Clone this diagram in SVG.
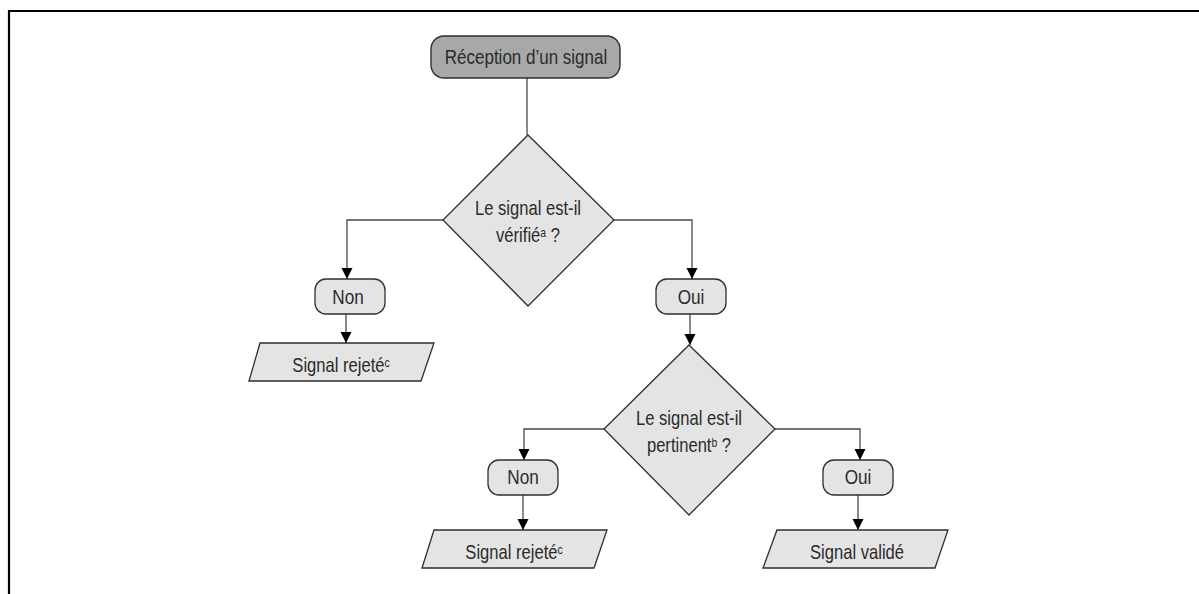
<svg xmlns="http://www.w3.org/2000/svg" width="1199" height="594" viewBox="0 0 1199 594">
  <style>
    text { font-family: "Liberation Sans Narrow", "Liberation Sans", Arial, sans-serif; font-size: 20px; fill: #2b2b2b; text-anchor: middle; }
    .sup { font-size: 12.5px; }
    .start { fill: #a8a8a8; stroke: #2e2e2e; stroke-width: 1.4; }
    .node { fill: #e4e4e4; stroke: #2e2e2e; stroke-width: 1.3; }
    .link { fill: none; stroke: #4a4a4a; stroke-width: 1.3; }
    .frame { fill: none; stroke: #000; stroke-width: 2.2; }
  </style>
  <defs>
    <marker id="arrow" markerWidth="11" markerHeight="12" refX="11" refY="5.5" orient="auto" markerUnits="userSpaceOnUse">
      <path d="M0,0 L11,5.5 L0,11 Z" fill="#000"/>
    </marker>
  </defs>

  <rect width="1199" height="594" fill="#fff"/>
  <path class="frame" d="M9,594 V11 H1199"/>

  <!-- connectors -->
  <g id="connectors">
    <path class="link" d="M527,78 V135"/>
    <path class="link" d="M443,220 H347 V279" marker-end="url(#arrow)"/>
    <path class="link" d="M614,220 H692 V279" marker-end="url(#arrow)"/>
    <path class="link" d="M346,314 V343" marker-end="url(#arrow)"/>
    <path class="link" d="M690,314 V345" marker-end="url(#arrow)"/>
    <path class="link" d="M604,429 H524 V460" marker-end="url(#arrow)"/>
    <path class="link" d="M775,429 H860 V460" marker-end="url(#arrow)"/>
    <path class="link" d="M523,495 V530" marker-end="url(#arrow)"/>
    <path class="link" d="M858,495 V530" marker-end="url(#arrow)"/>
  </g>

  <!-- labels are narrowed horizontally to a condensed look -->
  <g id="start">
    <rect class="start" x="431" y="36" width="189" height="42" rx="13"/>
    <text transform="translate(526,64) scale(0.85,1)">Réception d’un signal</text>
  </g>

  <g id="decision-verifie">
    <polygon class="node" points="528,135 614,220 528,306 443,220"/>
    <text transform="translate(528,215) scale(0.83,1)">Le signal est-il</text>
    <text transform="translate(528,242) scale(0.83,1)">vérifié<tspan class="sup" dy="-5">a</tspan><tspan dy="5"> ?</tspan></text>
  </g>

  <g id="non-1">
    <rect class="node" x="315" y="279" width="70" height="35" rx="11"/>
    <text transform="translate(348,304) scale(0.86,1)">Non</text>
  </g>

  <g id="oui-1">
    <rect class="node" x="656" y="279" width="70" height="35" rx="11"/>
    <text transform="translate(691,304) scale(0.86,1)">Oui</text>
  </g>

  <g id="rejet-1">
    <polygon class="node" points="260,343 434,343 421,381 249,381"/>
    <text transform="translate(341,372) scale(0.83,1)">Signal rejeté<tspan class="sup" dy="-5">c</tspan></text>
  </g>

  <g id="decision-pertinent">
    <polygon class="node" points="689,345 775,429 689,515 604,429"/>
    <text transform="translate(689,425) scale(0.83,1)">Le signal est-il</text>
    <text transform="translate(689,452) scale(0.83,1)">pertinent<tspan class="sup" dy="-5">b</tspan><tspan dy="5"> ?</tspan></text>
  </g>

  <g id="non-2">
    <rect class="node" x="488" y="460" width="70" height="35" rx="11"/>
    <text transform="translate(523,484) scale(0.86,1)">Non</text>
  </g>

  <g id="oui-2">
    <rect class="node" x="823" y="460" width="70" height="35" rx="11"/>
    <text transform="translate(858,484) scale(0.86,1)">Oui</text>
  </g>

  <g id="rejet-2">
    <polygon class="node" points="434,530 607,530 594,568 422,568"/>
    <text transform="translate(514,559) scale(0.83,1)">Signal rejeté<tspan class="sup" dy="-5">c</tspan></text>
  </g>

  <g id="valide">
    <polygon class="node" points="777,530 948,530 935,568 763,568"/>
    <text transform="translate(857,559) scale(0.83,1)">Signal validé</text>
  </g>
</svg>
